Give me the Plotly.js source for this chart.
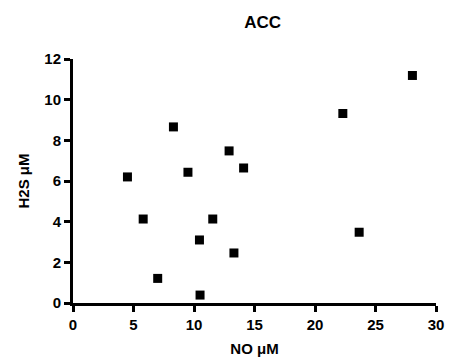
<!DOCTYPE html>
<html>
<head>
<meta charset="utf-8">
<script src="https://cdn.plot.ly/plotly-3.0.1.min.js"></script>
<style>html,body{margin:0;padding:0;background:#fff;}#chart{width:449px;height:363px;}</style>
</head>
<body>
<div id="chart"></div>
<script>
const noValues = [4.5, 5.8, 7.0, 8.3, 9.5, 10.45, 10.5, 11.55, 12.9, 13.3, 14.1, 22.3, 23.65, 28.05];
const h2sValues = [6.2, 4.13, 1.21, 8.66, 6.43, 3.1, 0.39, 4.13, 7.48, 2.46, 6.64, 9.32, 3.48, 11.19];
const xTicks = [0, 5, 10, 15, 20, 25, 30];
const yTicks = [0, 2, 4, 6, 8, 10, 12];
const fontFam = 'Arial, "Liberation Sans", sans-serif';

const trace = {
  x: noValues, y: h2sValues, type: 'scatter', mode: 'markers',
  marker: {symbol: 'square', size: 9, color: '#000', line: {width: 0}},
  cliponaxis: false
};
function makeAxis(range, ticks, titleText) {
  return {
    range: range, autorange: false,
    showline: true, linewidth: 3, linecolor: 'rgb(0,0,0)', mirror: false,
    showgrid: false, zeroline: false,
    ticks: 'outside', ticklen: 6, tickwidth: 3, tickcolor: 'rgb(0,0,0)',
    tickmode: 'array', tickvals: ticks, ticktext: ticks.map(v => '<b>' + v + '</b>'),
    tickfont: {family: fontFam, size: 15, color: '#000'},
    title: {text: '<b>' + titleText + '</b>', standoff: 12, font: {family: fontFam, size: 15, color: '#000'}}
  };
}
const layout = {
  width: 449, height: 363,
  margin: {l: 73, r: 13, t: 59, b: 60},
  paper_bgcolor: '#fff', plot_bgcolor: '#fff',
  showlegend: false,
  title: {text: '<b>ACC</b>', x: 0.585, xanchor: 'center', y: 0.94, yanchor: 'middle',
          font: {family: fontFam, size: 17, color: '#000'}},
  xaxis: makeAxis([0, 30], xTicks, 'NO μM'),
  yaxis: makeAxis([0, 12], yTicks, 'H2S μM')
};
Plotly.newPlot('chart', [trace], layout, {displayModeBar: false}).then(function () {
  // force crisp styling of axis lines and tick labels
  document.querySelectorAll('.xlines-above, .ylines-above').forEach(function (p) {
    p.style.strokeWidth = '3px';
    p.style.stroke = '#000';
  });
  document.querySelectorAll('.xtick text, .ytick text').forEach(function (t) {
    t.style.fontWeight = 'bold';
  });
});
</script>
</body>
</html>
